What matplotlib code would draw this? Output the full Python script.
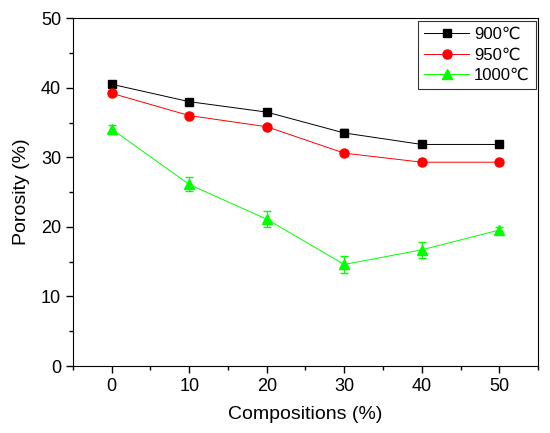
import numpy as np
import matplotlib.pyplot as plt
from matplotlib.ticker import MultipleLocator

plt.rcParams['font.family'] = ['Liberation Sans', 'DejaVu Sans']

# composições (%)
comp = [0, 10, 20, 30, 40, 50]

# porosidade para cada temperatura
por_900 = [40.5, 38.0, 36.5, 33.5, 31.85, 31.85]
por_950 = [39.2, 36.0, 34.4, 30.6, 29.3, 29.3]
por_1000 = [34.05, 26.1, 21.1, 14.6, 16.7, 19.55]

# barras de erro
err_900 = [0.3, 0.3, 0.3, 0.5, 0.3, 0.3]
err_950 = [0.3, 0.3, 0.3, 0.3, 0.3, 0.3]
err_1000 = [0.65, 1.0, 1.15, 1.25, 1.15, 0.4]

labels = ['900\u2103', '950\u2103', '1000\u2103']

fig = plt.figure(figsize=(5.5, 4.33), dpi=100)
ax = fig.add_axes([0.1327, 0.1547, 0.8455, 0.8033])

# barras de erro primeiro, sem entrar na legenda
ax.errorbar(comp, por_900, yerr=err_900, fmt='none', ecolor='black', elinewidth=0.8, capsize=3)
ax.errorbar(comp, por_950, yerr=err_950, fmt='none', ecolor='red', elinewidth=0.8, capsize=3)
ax.errorbar(comp, por_1000, yerr=err_1000, fmt='none', ecolor='#00ff00', elinewidth=0.8, capsize=3)

ax.plot(comp, por_900, color='black', marker='s', ms=6, lw=0.7, label=labels[0])
ax.plot(comp, por_950, color='red', marker='o', ms=6.5, lw=0.7, label=labels[1])
ax.plot(comp, por_1000, color='#00ff00', marker='^', ms=7, lw=0.7, label=labels[2])

ax.set_xlim(-5, 55)
ax.set_ylim(0, 50)
ax.xaxis.set_major_locator(MultipleLocator(10))
ax.xaxis.set_minor_locator(MultipleLocator(5))
ax.yaxis.set_major_locator(MultipleLocator(10))
ax.yaxis.set_minor_locator(MultipleLocator(5))
ax.tick_params(which='both', direction='out', top=False, right=False, labelsize=13)
ax.tick_params(which='major', length=5, width=1)
ax.tick_params(which='minor', length=3, width=1)

ax.set_xlabel('Compositions (%)', fontsize=14, labelpad=8)
ax.set_ylabel('Porosity (%)', fontsize=14, labelpad=8)

leg = ax.legend(loc='upper right', fontsize=12, frameon=True, fancybox=False,
                edgecolor='black', borderaxespad=0.15, handlelength=2.7,
                handletextpad=0.3, borderpad=0.35, labelspacing=0.35)
leg.get_frame().set_linewidth(0.8)

fig.savefig('out.png', dpi=100)
